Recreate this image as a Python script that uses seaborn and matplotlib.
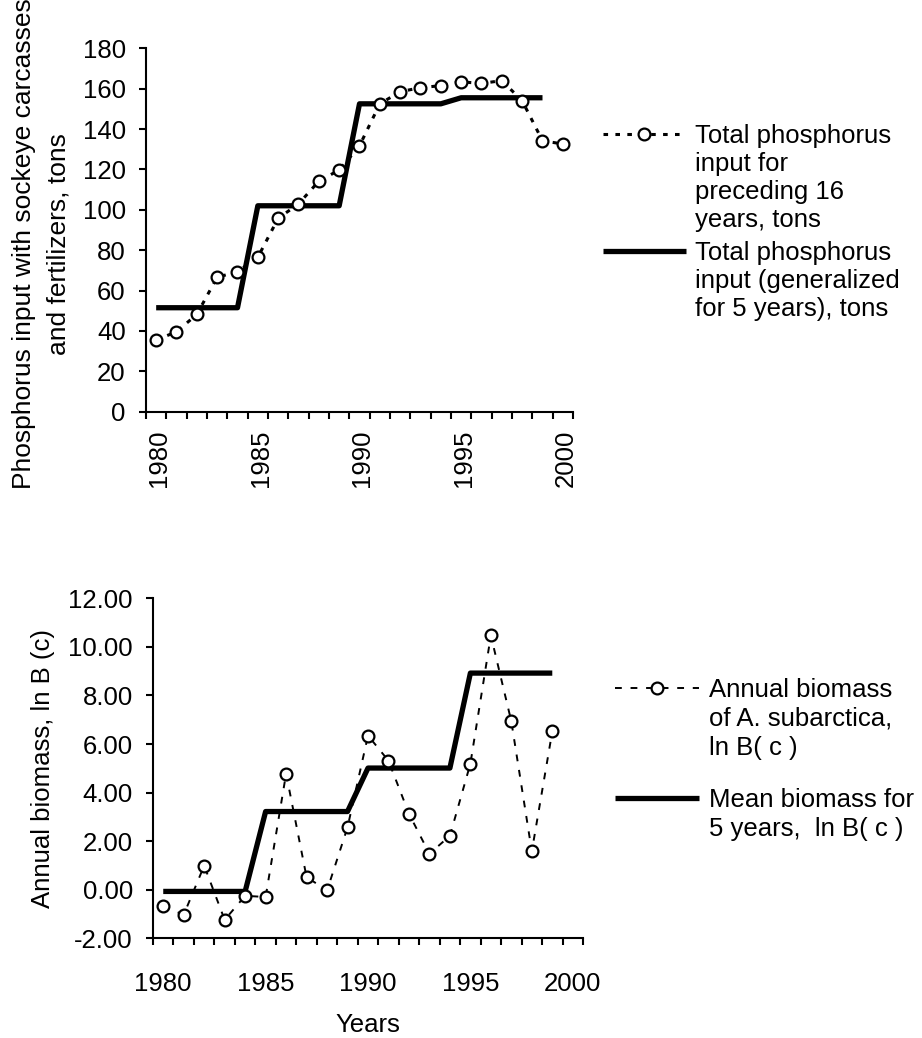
import numpy as np
import matplotlib
matplotlib.use("Agg")
import matplotlib.pyplot as plt
import matplotlib.transforms as mtransforms
from matplotlib.lines import Line2D
from matplotlib.ticker import FixedLocator, FuncFormatter
import seaborn as sns

# ---------------- data ----------------
years_top = [1980, 1981, 1982, 1983, 1984, 1985, 1986, 1987, 1988, 1989, 1990,
             1991, 1992, 1993, 1994, 1995, 1996, 1997, 1998, 1999, 2000]
phos_16yr = [35.5, 39.6, 48.2, 66.6, 69.3, 76.5, 95.8, 102.9, 114.2, 119.7, 131.7,
             152.5, 158.5, 160.5, 161.5, 163.4, 162.6, 164.0, 154.0, 134.2, 132.6]
years_gen = [1980, 1981, 1982, 1983, 1984, 1985, 1986, 1987, 1988, 1989,
             1990, 1991, 1992, 1993, 1994, 1995, 1996, 1997, 1998, 1999]
phos_5yr = [51.5, 51.5, 51.5, 51.5, 51.5, 102.0, 102.0, 102.0, 102.0, 102.0,
            152.5, 152.5, 152.5, 152.5, 152.5, 155.5, 155.5, 155.5, 155.5, 155.5]

years_bot = [1980, 1981, 1982, 1983, 1984, 1985, 1986, 1987, 1988, 1989,
             1990, 1991, 1992, 1993, 1994, 1995, 1996, 1997, 1998, 1999]
biomass = [-0.69, -1.03, 0.99, -1.24, -0.25, -0.30, 4.78, 0.52, -0.03, 2.57,
           6.35, 5.31, 3.13, 1.48, 2.22, 5.19, 10.47, 6.93, 1.58, 6.52]
biomass_mean5 = [-0.07, -0.07, -0.07, -0.07, -0.07, 3.22, 3.22, 3.22, 3.22, 3.22,
                 5.01, 5.01, 5.01, 5.01, 5.01, 8.92, 8.92, 8.92, 8.92, 8.92]

label_years = [1980, 1985, 1990, 1995, 2000]
top_yticks = [0, 20, 40, 60, 80, 100, 120, 140, 160, 180]
bot_yticks = [-2, 0, 2, 4, 6, 8, 10, 12]

top_ylabel = "Phosphorus input with sockeye carcasses\nand fertilizers, tons"
bot_ylabel = "Annual biomass, ln B (c)"
bot_xlabel = "Years"
leg_top_1 = ["Total phosphorus", "input for", "preceding 16", "years, tons"]
leg_top_2 = ["Total phosphorus", "input (generalized", "for 5 years), tons"]
leg_bot_1 = ["Annual biomass", "of A. subarctica,", "ln B( c )"]
leg_bot_2 = ["Mean biomass for", "5 years,  ln B( c )"]

# ---------------- style ----------------
sns.set_theme(style="ticks")
plt.rcParams['font.family'] = ['Liberation Sans', 'DejaVu Sans']
plt.rcParams['axes.unicode_minus'] = False
for k in ['text.color', 'axes.labelcolor', 'xtick.color', 'ytick.color', 'axes.edgecolor']:
    plt.rcParams[k] = 'black'
FS = 18.5

fig = plt.figure(figsize=(9.22, 10.38), dpi=100)
W, H = 922.0, 1038.0
ax1 = fig.add_axes([146 / W, 1 - 411.7 / H, 427 / W, 363.4 / H])
ax2 = fig.add_axes([153 / W, 1 - 938.3 / H, 430 / W, 340 / H])

marker_kw = dict(marker='o', markersize=8.5, markerfacecolor='white',
                 markeredgecolor='black', markeredgewidth=1.6)

# top panel
sns.lineplot(x=years_gen, y=phos_5yr, ax=ax1, color='black', linewidth=3.8,
             solid_capstyle='butt', legend=False)
sns.lineplot(x=years_top, y=phos_16yr, ax=ax1, color='black', linewidth=2.2,
             linestyle=(0, (1.5, 2.4)), legend=False, clip_on=False, **marker_kw)

# bottom panel
sns.lineplot(x=years_bot, y=biomass_mean5, ax=ax2, color='black', linewidth=3.8,
             solid_capstyle='butt', legend=False)
sns.lineplot(x=years_bot, y=biomass, ax=ax2, color='black', linewidth=1.4,
             linestyle=(0, (3.5, 4.5)), legend=False, clip_on=False, **marker_kw)


def style_axes(ax, ylim, yticks, yfmt, rot, xpad):
    ax.set_xlim(1979.5, 2000.5)
    ax.set_ylim(*ylim)
    sns.despine(ax=ax)
    for s in ['left', 'bottom']:
        ax.spines[s].set_linewidth(1.5)
        ax.spines[s].set_color('black')
    ax.xaxis.set_major_locator(FixedLocator(label_years))
    ax.xaxis.set_minor_locator(FixedLocator(np.arange(1979.5, 2001.0, 1.0)))
    ax.set_xticklabels([str(y) for y in label_years])
    ax.tick_params(axis='x', which='major', length=0, pad=xpad, labelsize=FS,
                   labelrotation=rot)
    ax.tick_params(axis='x', which='minor', length=5, width=1.5, direction='out')
    ax.set_yticks(yticks)
    ax.yaxis.set_major_formatter(FuncFormatter(yfmt))
    ax.tick_params(axis='y', which='major', length=5, width=1.5, direction='out',
                   pad=9.5, labelsize=FS)
    ax.set_xlabel("")
    ax.set_ylabel("")
    ax.grid(False)


style_axes(ax1, (0, 180), top_yticks, lambda v, p: f"{v:.0f}", 90, 13)
style_axes(ax2, (-2, 12), bot_yticks, lambda v, p: f"{v:.2f}", 0, 24.5)

# nudge rotated year labels slightly right, as in the reference
shift = mtransforms.ScaledTranslation(3 / 100, 0, fig.dpi_scale_trans)
for lab in ax1.get_xticklabels():
    lab.set_transform(lab.get_transform() + shift)

ax1.set_ylabel(top_ylabel, fontsize=19, linespacing=1.55)
ax1.yaxis.set_label_coords(-0.177, 0.462)
ax2.set_ylabel(bot_ylabel, fontsize=FS)
ax2.yaxis.set_label_coords(-0.228, 0.5)
ax2.set_xlabel(bot_xlabel, fontsize=FS, labelpad=12)


def add_entry(handle, lines, x, y_top, ls, hl, htp):
    handles = [handle] + [Line2D([], [], linestyle='none') for _ in lines[1:]]
    fig.legend(handles, lines, loc='upper left', bbox_to_anchor=(x, y_top),
               frameon=False, fontsize=FS, borderpad=0, borderaxespad=0,
               labelspacing=ls, handlelength=hl, handletextpad=htp, numpoints=1)


add_entry(ax1.lines[1], leg_top_1, 603.3 / W, 0.8801, 0.15, 3.2, 0.35)
add_entry(ax1.lines[0], leg_top_2, 603.3 / W, 0.7676, 0.15, 3.2, 0.35)
add_entry(ax2.lines[1], leg_bot_1, 615 / W, 0.3469, 0.19, 3.25, 0.4)
add_entry(ax2.lines[0], leg_bot_2, 615 / W, 0.2409, 0.19, 3.25, 0.4)

fig.savefig("out.png", dpi=100)
